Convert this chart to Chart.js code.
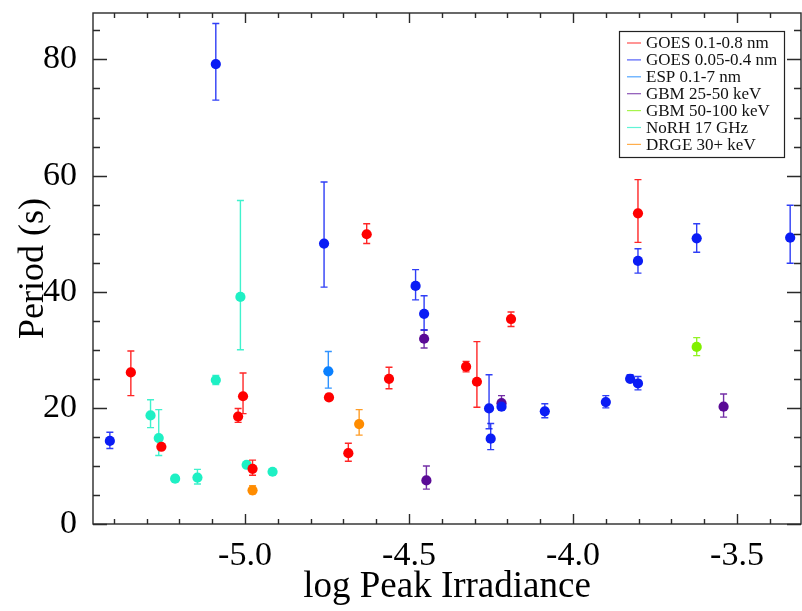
<!DOCTYPE html>
<html>
<head>
<meta charset="utf-8">
<title>Period vs log Peak Irradiance</title>
<script src="https://cdn.jsdelivr.net/npm/chart.js@4.4.1/dist/chart.umd.min.js"></script>
<style>
    html, body { margin: 0; padding: 0; background: #ffffff; }
    #periodChart { display: block; }
</style>
</head>
<body>
<canvas id="periodChart" width="802" height="611"></canvas>
<script>
// GOES 0.1-0.8 nm
const goesLongX = [-5.348, -5.255, -5.021, -5.006, -4.977, -4.744, -4.685, -4.629, -4.561, -4.326, -4.293, -4.189, -3.802];
const goesLongY = [26.1, 13.3, 18.5, 22.0, 9.5, 21.8, 12.2, 49.9, 25.0, 27.1, 24.5, 35.3, 53.5];
const goesLongLo = [22.1, null, 17.5, 19.0, 8.4, 21.4, 10.8, 48.3, 23.3, 26.2, 20.1, 34.0, 48.5];
const goesLongHi = [29.8, null, 19.9, 26.0, 11.0, 22.3, 13.9, 51.7, 27.0, 28.0, 31.4, 36.5, 59.3];

// GOES 0.05-0.4 nm
const goesShortX = [-5.412, -5.089, -4.759, -4.480, -4.454, -4.256, -4.251, -4.218, -4.086, -3.900, -3.826, -3.802, -3.802, -3.623, -3.338];
const goesShortY = [14.3, 79.2, 48.3, 41.0, 36.2, 19.9, 14.7, 20.2, 19.4, 21.0, 25.0, 24.2, 45.3, 49.2, 49.3];
const goesShortLo = [13.0, 73.0, 40.8, 38.6, 33.4, 16.4, 12.8, 19.7, 18.3, 20.0, 24.7, 23.1, 43.2, 46.8, 44.9];
const goesShortHi = [15.8, 86.2, 58.9, 43.8, 39.3, 25.7, 17.3, 20.6, 20.7, 22.1, 25.7, 25.4, 47.4, 51.7, 54.9];

// ESP 0.1-7 nm
const espX = [-4.746];
const espY = [26.3];
const espLo = [23.4];
const espHi = [29.7];

// GBM 25-50 keV
const gbmLowX = [-4.454, -4.447, -4.218, -3.541];
const gbmLowY = [31.9, 7.5, 20.8, 20.2];
const gbmLowLo = [30.3, 6.0, 20.1, 18.4];
const gbmLowHi = [33.4, 10.0, 22.1, 22.4];

// GBM 50-100 keV
const gbmHighX = [-3.623];
const gbmHighY = [30.5];
const gbmHighLo = [29.0];
const gbmHighHi = [32.1];

// NoRH 17 GHz
const norhX = [-5.288, -5.263, -5.213, -5.145, -5.089, -5.014, -4.995, -4.916];
const norhY = [18.7, 14.8, 7.8, 8.0, 24.8, 39.1, 10.2, 9.0];
const norhLo = [16.6, 11.8, null, 6.9, 24.0, 30.0, null, null];
const norhHi = [21.4, 19.7, null, 9.4, 25.6, 55.7, null, null];

// DRGE 30+ keV
const drgeX = [-4.977, -4.652];
const drgeY = [5.8, 17.2];
const drgeLo = [5.2, 15.3];
const drgeHi = [6.6, 19.7];

// Axis ticks
const xMajorTicks = [-5.0, -4.5, -4.0, -3.5];
const yMajorTicks = [0, 20, 40, 60, 80];
const xRange = [-5.4634, -3.305];
const yRange = [0, 88];

const serif = "'Liberation Serif', 'Times New Roman', serif";

function makePoints(xs, ys, lo, hi) {
    return xs.map((x, i) => ({ x: x, y: ys[i], yMin: lo[i], yMax: hi[i] }));
}

function makeSeries(label, color, xs, ys, lo, hi) {
    return {
        label: label,
        data: makePoints(xs, ys, lo, hi),
        backgroundColor: color,
        borderColor: color,
        borderWidth: 0,
        pointRadius: 5.1,
        pointHoverRadius: 5.1,
        showLine: false
    };
}

const datasets = [
    makeSeries("GOES 0.1-0.8 nm", "#ff0000", goesLongX, goesLongY, goesLongLo, goesLongHi),
    makeSeries("GOES 0.05-0.4 nm", "#0a1cf5", goesShortX, goesShortY, goesShortLo, goesShortHi),
    makeSeries("ESP 0.1-7 nm", "#0a80ff", espX, espY, espLo, espHi),
    makeSeries("GBM 25-50 keV", "#5a0a96", gbmLowX, gbmLowY, gbmLowLo, gbmLowHi),
    makeSeries("GBM 50-100 keV", "#80f000", gbmHighX, gbmHighY, gbmHighLo, gbmHighHi),
    makeSeries("NoRH 17 GHz", "#1ef0c4", norhX, norhY, norhLo, norhHi),
    makeSeries("DRGE 30+ keV", "#ff8c00", drgeX, drgeY, drgeLo, drgeHi)
];

// Vertical error bars with small caps, drawn under each dataset's points
const errorBars = {
    id: "errorBars",
    beforeDatasetDraw(chart, args) {
        const ds = chart.data.datasets[args.index];
        const xs = chart.scales.x;
        const ys = chart.scales.y;
        const ctx = chart.ctx;
        ctx.save();
        ctx.strokeStyle = ds.borderColor;
        ctx.globalAlpha = 0.85;
        ctx.lineWidth = 1.4;
        ds.data.forEach(p => {
            if (p.yMin == null || p.yMax == null) return;
            const px = xs.getPixelForValue(p.x);
            const top = ys.getPixelForValue(p.yMax);
            const bot = ys.getPixelForValue(p.yMin);
            ctx.beginPath();
            ctx.moveTo(px, top);
            ctx.lineTo(px, bot);
            ctx.moveTo(px - 3.5, top);
            ctx.lineTo(px + 3.5, top);
            ctx.moveTo(px - 3.5, bot);
            ctx.lineTo(px + 3.5, bot);
            ctx.stroke();
        });
        ctx.restore();
    }
};

// Box frame with inward ticks on all four sides, plus the legend box
const axisFrame = {
    id: "axisFrame",
    afterDraw(chart) {
        const { ctx, chartArea: a } = chart;
        const xs = chart.scales.x;
        const ys = chart.scales.y;
        ctx.save();
        ctx.strokeStyle = "#2a2a2a";
        ctx.lineWidth = 1.4;
        ctx.strokeRect(a.left, a.top, a.right - a.left, a.bottom - a.top);

        ctx.beginPath();
        for (let v = -5.4; v <= -3.35; v += 0.1) {
            const px = Math.round(xs.getPixelForValue(v)) + 0.5;
            const major = xMajorTicks.some(t => Math.abs(t - v) < 1e-6);
            const len = major ? 10 : 5;
            ctx.moveTo(px, a.bottom);
            ctx.lineTo(px, a.bottom - len);
            ctx.moveTo(px, a.top);
            ctx.lineTo(px, a.top + len);
        }
        for (let v = 0; v <= yRange[1]; v += 5) {
            const py = Math.round(ys.getPixelForValue(v)) + 0.5;
            const major = yMajorTicks.includes(v);
            const len = major ? 14 : 7;
            ctx.moveTo(a.left, py);
            ctx.lineTo(a.left + len, py);
            ctx.moveTo(a.right, py);
            ctx.lineTo(a.right - len, py);
        }
        ctx.stroke();

        const boxL = 619, boxT = 31, boxW = 165, boxH = 126;
        ctx.fillStyle = "#ffffff";
        ctx.fillRect(boxL, boxT, boxW, boxH);
        ctx.lineWidth = 1.2;
        ctx.strokeStyle = "#222222";
        ctx.strokeRect(boxL + 0.5, boxT + 0.5, boxW, boxH);
        ctx.font = "17px " + serif;
        ctx.textBaseline = "middle";
        ctx.textAlign = "left";
        chart.data.datasets.forEach((ds, i) => {
            const cy = boxT + 12 + i * 16.9;
            ctx.strokeStyle = ds.borderColor;
            ctx.globalAlpha = 0.7;
            ctx.lineWidth = 1.2;
            ctx.beginPath();
            ctx.moveTo(boxL + 8, cy);
            ctx.lineTo(boxL + 22, cy);
            ctx.stroke();
            ctx.globalAlpha = 1;
            ctx.fillStyle = "#111111";
            ctx.fillText(ds.label, boxL + 27, cy + 1);
        });
        ctx.restore();
    }
};

const ctx = document.getElementById("periodChart").getContext("2d");

new Chart(ctx, {
    type: "scatter",
    data: { datasets: datasets },
    plugins: [errorBars, axisFrame],
    options: {
        responsive: false,
        animation: false,
        layout: {
            autoPadding: false,
            padding: { top: 13, right: 1, left: 0, bottom: 0 }
        },
        plugins: {
            legend: { display: false },
            tooltip: { enabled: false }
        },
        scales: {
            x: {
                type: "linear",
                min: xRange[0],
                max: xRange[1],
                afterBuildTicks: scale => {
                    scale.ticks = xMajorTicks.map(v => ({ value: v }));
                },
                afterFit: scale => {
                    scale.height = 87;
                    scale.paddingLeft = 0;
                    scale.paddingRight = 0;
                },
                grid: { display: false, drawTicks: false },
                border: { display: false },
                ticks: {
                    padding: 12,
                    color: "#000000",
                    font: { family: serif, size: 34 },
                    callback: v => v.toFixed(1)
                },
                title: {
                    display: true,
                    text: "log Peak Irradiance",
                    color: "#000000",
                    font: { family: serif, size: 37 },
                    padding: { top: 0, bottom: 2 }
                }
            },
            y: {
                type: "linear",
                min: yRange[0],
                max: yRange[1],
                afterBuildTicks: scale => {
                    scale.ticks = yMajorTicks.map(v => ({ value: v }));
                },
                afterFit: scale => {
                    scale.width = 93;
                    scale.paddingTop = 0;
                    scale.paddingBottom = 0;
                },
                grid: { display: false, drawTicks: false },
                border: { display: false },
                ticks: {
                    padding: 16,
                    color: "#000000",
                    font: { family: serif, size: 34 },
                    callback: v => String(v)
                },
                title: {
                    display: true,
                    text: "Period (s)",
                    color: "#000000",
                    font: { family: serif, size: 36 },
                    padding: { top: 12, bottom: 0 }
                }
            }
        }
    }
});
</script>
</body>
</html>
